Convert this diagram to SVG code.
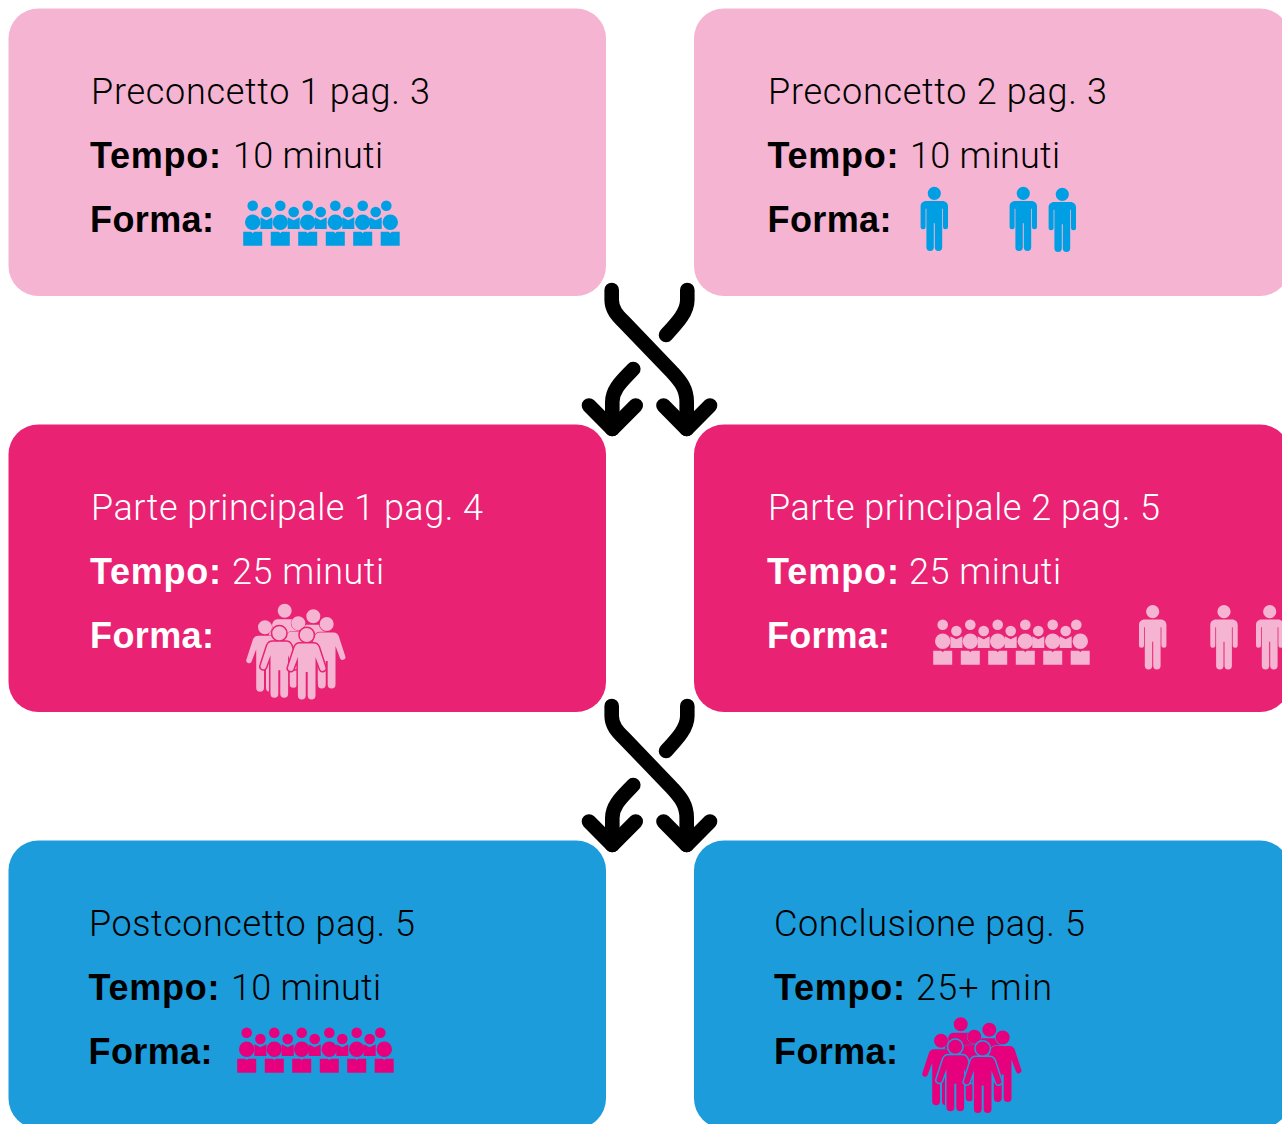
<svg xmlns="http://www.w3.org/2000/svg" width="1282" height="1124" viewBox="0 0 1282 1124">
<style>
text{font-family:"Roboto","Liberation Sans",sans-serif;font-weight:300;font-size:36px;fill:#000}
.b{font-family:"Liberation Sans",Arial,sans-serif;font-weight:700}
.w text{fill:#fff}
.box{stroke:none}
.c1{fill:#F5B4D2}.c2{fill:#E92273}.c3{fill:#1C9CDB}
.i1{color:#009FE3;fill:#009FE3}.i2{color:#F5B4D2;fill:#F5B4D2}.i3{color:#E6007E;fill:#E6007E}
.arrow{fill:none;stroke:#000;stroke-width:14.6;stroke-linecap:round;stroke-linejoin:round}
.walk{paint-order:stroke}
</style>
<defs>
<path id="person" d="M-8,7.7H8C11.5,7.7 13.7,10 13.7,13V33.5A2.5,2.5 0 0 1 8.7,33.5V15.5H7.9V54A3.7,3.7 0 0 1 0.5,54V30H-0.5V54A3.7,3.7 0 0 1 -7.9,54V15.5H-8.7V33.5A2.5,2.5 0 0 1 -13.7,33.5V13C-13.7,10 -11.5,7.7 -8,7.7ZM0,-6.6A6.6,6.6 0 1 1 0,6.6A6.6,6.6 0 1 1 0,-6.6Z"/>
<g id="unitA">
<circle cx="0" cy="-16.6" r="5.3"/>
<circle cx="0" cy="0" r="7.7"/>
<path d="M-9.5,9.4H-1.5L0,11L1.5,9.4H9.5V23.4H-9.5Z"/>
</g>
<g id="unitB">
<circle cx="0" cy="-10.3" r="5.3"/>
<path d="M-6,-5L0,-2L6,-5V6.7H-6Z"/>
</g>
<g id="crowd">
<use href="#unitA" x="0"/><use href="#unitB" x="13.7"/>
<use href="#unitA" x="27.6"/><use href="#unitB" x="41"/>
<use href="#unitA" x="55"/><use href="#unitB" x="68"/>
<use href="#unitA" x="82.6"/><use href="#unitB" x="95.6"/>
<use href="#unitA" x="110"/><use href="#unitB" x="123"/>
<circle cx="133.6" cy="-16.6" r="5.3"/><circle cx="137.6" cy="0" r="7.7"/>
<path d="M128,9.4H136L137.6,11L139,9.4H147V23.4H128Z"/>
</g>
<path id="walker" class="walk" d="M-7,8.5H7C9.5,8.5 11,10 12,12L18.5,32A2.8,2.8 0 0 1 13.5,34.5L8.8,22V60.5A3.9,3.9 0 0 1 1,60.5V37H-1V60.5A3.9,3.9 0 0 1 -8.8,60.5V22L-13.5,34.5A2.8,2.8 0 0 1 -18.5,32L-12,12C-11,10 -9.5,8.5 -7,8.5ZM0,-7A7,7 0 1 1 0,7A7,7 0 1 1 0,-7Z"/>
<g id="people">
<use href="#walker" x="284.7" y="610.7" stroke="none"/>
<use href="#walker" x="313.3" y="616.3" stroke="none"/>
<use href="#walker" x="298.3" y="623.3" stroke-width="1"/>
<use href="#walker" x="265" y="627.3" stroke-width="1"/>
<use href="#walker" x="326.7" y="624" stroke-width="1.5"/>
<use href="#walker" x="279.3" y="633.3" stroke-width="3"/>
<use href="#walker" x="306.7" y="635" stroke-width="3"/>
</g>
<g id="cross" class="arrow">
<path d="M611.7,290V300C611.7,310 618,316 624,322L672,372C680,381 686.7,388 686.7,402V429"/>
<path d="M687.3,290V300C687.3,312 678,322 666,335"/>
<path d="M633.3,369C622,381 612.3,389 612.3,402V429"/>
<path d="M663.5,405.5L686.7,429L710,405.5"/>
<path d="M589,405.5L612.3,429L635.7,405.5"/>
</g>
</defs>

<g id="connectors">
<use href="#cross"/>
<use href="#cross" y="416"/>
</g>

<g id="node-preconcetto-1">
<rect class="box c1" x="8.5" y="8.5" width="597.5" height="287.5" rx="30"/>
<text x="91" y="104" textLength="339" lengthAdjust="spacing">Preconcetto 1 pag. 3</text>
<text class="b" x="90" y="168" textLength="131" lengthAdjust="spacing">Tempo:</text>
<text x="233" y="168" textLength="150" lengthAdjust="spacing">10 minuti</text>
<text class="b" x="90" y="232" textLength="124" lengthAdjust="spacing">Forma:</text>
<use class="i1" href="#crowd" x="252.7" y="222.3"/>
</g>
<g id="node-preconcetto-2">
<rect class="box c1" x="694" y="8.5" width="596" height="287.5" rx="30"/>
<text x="768" y="104" textLength="339" lengthAdjust="spacing">Preconcetto 2 pag. 3</text>
<text class="b" x="767.5" y="168" textLength="131" lengthAdjust="spacing">Tempo:</text>
<text x="910" y="168" textLength="150" lengthAdjust="spacing">10 minuti</text>
<text class="b" x="767.5" y="232" textLength="124" lengthAdjust="spacing">Forma:</text>
<use class="i1" href="#person" x="934.3" y="193.3"/>
<use class="i1" href="#person" x="1023.3" y="193.3"/>
<use class="i1" href="#person" x="1062.3" y="194.3"/>
</g>

<g id="node-principale-1" class="w">
<rect class="box c2" x="8.5" y="424.5" width="597.5" height="287.5" rx="30"/>
<text x="91" y="520" textLength="392" lengthAdjust="spacing">Parte principale 1 pag. 4</text>
<text class="b" x="90" y="584" textLength="131" lengthAdjust="spacing">Tempo:</text>
<text x="232" y="584" textLength="152" lengthAdjust="spacing">25 minuti</text>
<text class="b" x="90" y="648" textLength="124" lengthAdjust="spacing">Forma:</text>
<use class="i2" href="#people" stroke="#E92273"/>
</g>
<g id="node-principale-2" class="w">
<rect class="box c2" x="694" y="424.5" width="596" height="287.5" rx="30"/>
<text x="768" y="520" textLength="392" lengthAdjust="spacing">Parte principale 2 pag. 5</text>
<text class="b" x="767" y="584" textLength="132" lengthAdjust="spacing">Tempo:</text>
<text x="909" y="584" textLength="152" lengthAdjust="spacing">25 minuti</text>
<text class="b" x="767" y="648" textLength="123" lengthAdjust="spacing">Forma:</text>
<use class="i2" href="#crowd" x="942.7" y="641.3"/>
<use class="i2" href="#person" x="1152.7" y="611.7"/>
<use class="i2" href="#person" x="1224" y="611.7"/>
<use class="i2" href="#person" x="1269.7" y="611.7"/>
</g>

<g id="node-postconcetto">
<rect class="box c3" x="8.5" y="840.5" width="597.5" height="288" rx="30"/>
<text x="89" y="936" textLength="326" lengthAdjust="spacing">Postconcetto pag. 5</text>
<text class="b" x="88.5" y="1000" textLength="131" lengthAdjust="spacing">Tempo:</text>
<text x="231" y="1000" textLength="150" lengthAdjust="spacing">10 minuti</text>
<text class="b" x="88.5" y="1064" textLength="124" lengthAdjust="spacing">Forma:</text>
<use class="i3" href="#crowd" x="246.7" y="1049.3"/>
</g>
<g id="node-conclusione">
<rect class="box c3" x="694" y="840.5" width="596" height="288" rx="30"/>
<text x="774" y="936" textLength="311" lengthAdjust="spacing">Conclusione pag. 5</text>
<text class="b" x="774" y="1000" textLength="131" lengthAdjust="spacing">Tempo:</text>
<text x="916" y="1000" textLength="136" lengthAdjust="spacing">25+ min</text>
<text class="b" x="774" y="1064" textLength="124" lengthAdjust="spacing">Forma:</text>
<use class="i3" href="#people" x="676" y="413.5" stroke="#1C9CDB"/>
</g>
</svg>
